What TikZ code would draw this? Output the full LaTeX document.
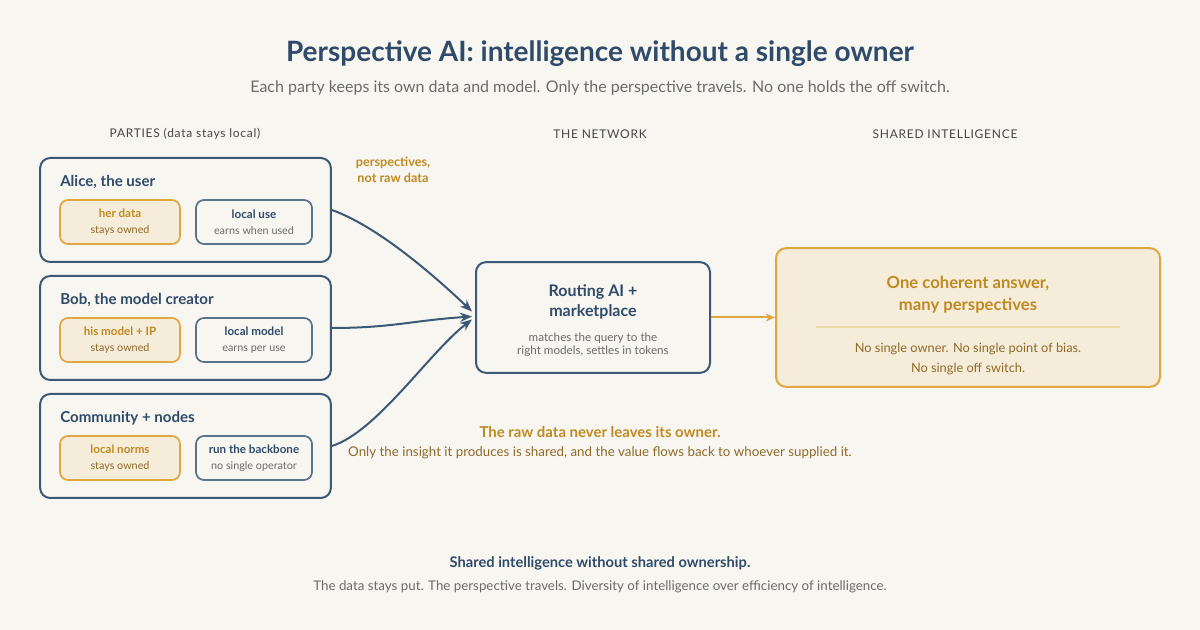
\documentclass[tikz,border=0pt]{standalone}
\usepackage{fontspec}
\setmainfont{Lato}
\usetikzlibrary{arrows.meta,positioning}
\definecolor{bgPaper}{HTML}{F8F6F1}
\definecolor{inkBlue}{HTML}{2F4B69}
\definecolor{edgeBlue}{HTML}{3D5875}
\definecolor{goldLine}{HTML}{E2A640}
\definecolor{goldFill}{HTML}{F5ECDA}
\definecolor{goldText}{HTML}{BF8A22}
\definecolor{brownText}{HTML}{8F6A28}
\definecolor{greyText}{HTML}{6B6B6B}
\definecolor{ruleGold}{HTML}{EBD9A8}
\newcommand{\subnote}[1]{{\mdseries\fontsize{8.1}{12}\selectfont #1}}

\begin{document}
\begin{tikzpicture}[x=0.75pt,y=-0.75pt,>={Stealth[length=9pt,width=7pt]},
  party/.style={draw=edgeBlue,line width=1.5pt,rounded corners=7.5pt,minimum width=218pt,minimum height=78pt,inner sep=0pt},
  ptitle/.style={anchor=west,text=inkBlue,font=\fontsize{11.3}{13}\selectfont\bfseries,inner sep=0pt},
  owned/.style={draw=goldLine,fill=goldFill,line width=1.3pt,rounded corners=6pt,minimum width=90pt,minimum height=33pt,inner sep=0pt,align=center,text=goldText,font=\fontsize{8.7}{12}\selectfont\bfseries},
  local/.style={draw=edgeBlue!85,line width=1.3pt,rounded corners=6pt,minimum width=87pt,minimum height=33pt,inner sep=0pt,align=center,text=inkBlue,font=\fontsize{8.7}{12}\selectfont\bfseries},
  header/.style={text=greyText!65!black,font=\fontsize{9}{10}\selectfont\addfontfeature{LetterSpace=6}},
  flow/.style={->,draw=edgeBlue,line width=1.5pt}]
\fill[bgPaper] (0,0) rectangle (1200,630);

% title and column heads
\node[text=inkBlue,font=\fontsize{21}{25}\selectfont\bfseries] (title) at (600,54) {Perspective AI: intelligence without a single owner};
\node[text=greyText,font=\fontsize{12}{14}\selectfont] (subtitle) at (600,88) {Each party keeps its own data and model. Only the perspective travels. No one holds the off switch.};
\node[header] (colparty) at (185,134) {PARTIES (data stays local)};
\node[header] (colnet) at (600,134) {THE NETWORK};
\node[header] (colshared) at (945,134) {SHARED INTELLIGENCE};

% parties
\node[party] (alice) at (185.5,210) {};
\node[ptitle] (alicet) at (60,182) {Alice, the user};
\node[owned] (aliceown) at (120,222) {her data\\\subnote{\color{brownText}stays owned}};
\node[local] (aliceuse) at (254,222) {local use\\\subnote{\color{greyText}earns when used}};

\node[party] (bob) at (185.5,328) {};
\node[ptitle] (bobt) at (60,300) {Bob, the model creator};
\node[owned] (bobown) at (120,340) {his model + IP\\\subnote{\color{brownText}stays owned}};
\node[local] (bobuse) at (254,340) {local model\\\subnote{\color{greyText}earns per use}};

\node[party] (comm) at (185.5,446) {};
\node[ptitle] (commt) at (60,418) {Community + nodes};
\node[owned] (commown) at (120,458) {local norms\\\subnote{\color{brownText}stays owned}};
\node[local] (commuse) at (254,458) {run the backbone\\\subnote{\color{greyText}no single operator}};

\node[align=center,text=goldText,font=\fontsize{9.5}{11.5}\selectfont\bfseries] (flowlabel) at (393,170) {perspectives,\\not raw data};

% network
\node[party,minimum width=175.5pt,minimum height=83pt] (router) at (593,317.5) {};
\node[align=center,text=inkBlue,font=\fontsize{12}{15}\selectfont\bfseries] (routert) at (593,302) {Routing AI +\\marketplace};
\node[align=center,text=greyText,font=\fontsize{8.75}{9.75}\selectfont] (routers) at (593,345) {matches the query to the\\right models, settles in tokens};

\draw[flow] (alice.east) .. controls +(45,16) and +(-40,-38) .. ([shift={(-3,-6)}]router.west);
\draw[flow] (bob.east) .. controls +(60,0) and +(-60,4) .. ([shift={(-3,-1)}]router.west);
\draw[flow] (comm.east) .. controls +(45,-14) and +(-42,32) .. ([shift={(-3,2)}]router.west);

% shared answer
\node[draw=goldLine,fill=goldFill,line width=1.5pt,rounded corners=7.5pt,minimum width=288pt,minimum height=104pt] (answer) at (968,317.5) {};
\node[align=center,text=goldText,font=\fontsize{12.5}{16.5}\selectfont\bfseries] (answert) at (968,295) {One coherent answer,\\many perspectives};
\node[align=center,text=brownText,font=\fontsize{9.6}{15}\selectfont] (answers) at (968,359) {No single owner. No single point of bias.\\No single off switch.};
\draw[ruleGold,line width=1.3pt] (816,327) -- (1120,327);

\draw[->,draw=goldLine,line width=1.5pt,>={Stealth[length=7pt,width=6pt]}] (router.east) -- (answer.west);

% notes
\node[text=goldText,font=\fontsize{11.2}{13}\selectfont\bfseries] (rawnote) at (600,432) {The raw data never leaves its owner.};
\node[text=brownText,font=\fontsize{10}{11}\selectfont] (rawsub) at (600,453) {Only the insight it produces is shared, and the value flows back to whoever supplied it.};
\node[text=inkBlue,font=\fontsize{11}{12}\selectfont\bfseries] (closing) at (600,563) {Shared intelligence without shared ownership.};
\node[text=greyText,font=\fontsize{10}{11}\selectfont] (closingsub) at (600,587) {The data stays put. The perspective travels. Diversity of intelligence over efficiency of intelligence.};
\end{tikzpicture}
\end{document}
